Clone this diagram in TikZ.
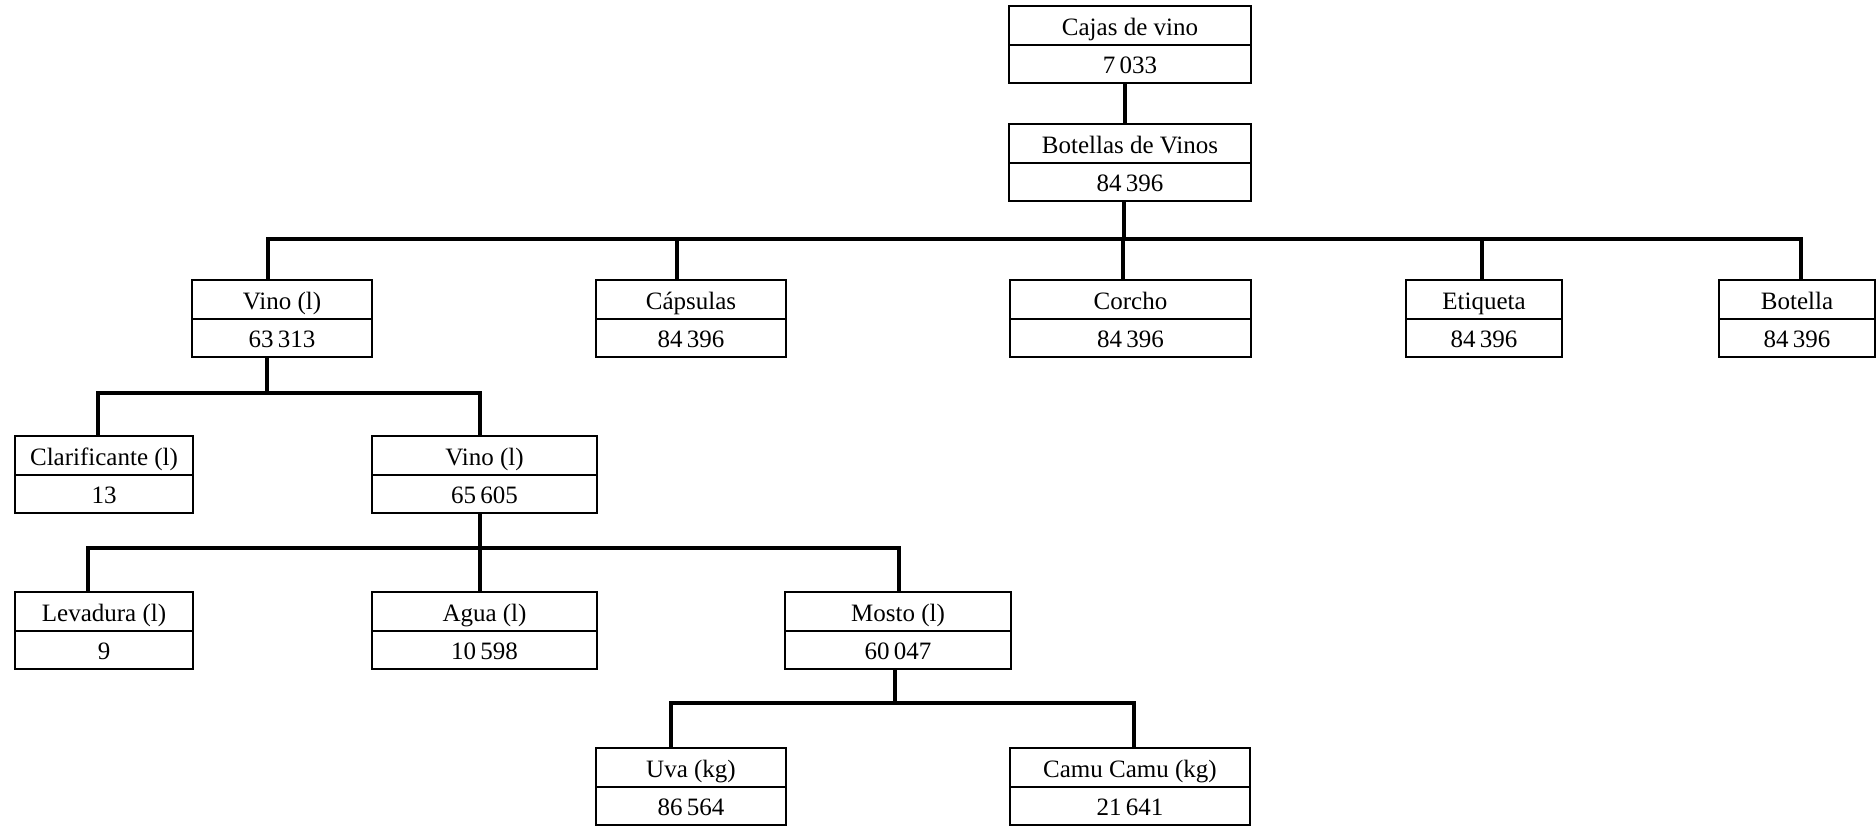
\documentclass[tikz,border=0pt]{standalone}
\usepackage{fontspec}
\setmainfont{Liberation Serif}
\usetikzlibrary{shapes.multipart}

% one text line per cell, with the baseline a little above the cell bottom
\newcommand{\cell}[1]{\rule[-8.6pt]{0pt}{36.6pt}#1}

\tikzset{
  item/.style={rectangle split, rectangle split parts=2, draw, line width=2pt,
    inner xsep=0pt, inner ysep=0pt, minimum width=#1, anchor=north west,
    font=\fontsize{25}{29}\selectfont},
  conn/.style={line width=4.2pt, line join=miter}
}

\begin{document}
\begin{tikzpicture}[x=1pt, y=-1pt]
\useasboundingbox (0,0) rectangle (1876,827);

% levels of the bill of materials
\node[item=242pt] (cajas)    at (1008,5)   {\cell{Cajas de vino}\nodepart{second}\cell{7\,033}};
\node[item=242pt] (botellas) at (1008,123) {\cell{Botellas de Vinos}\nodepart{second}\cell{84\,396}};

\node[item=180pt] (vino)     at (191,279)  {\cell{Vino (l)}\nodepart{second}\cell{63\,313}};
\node[item=190pt] (capsulas) at (595,279)  {\cell{Cápsulas}\nodepart{second}\cell{84\,396}};
\node[item=241pt] (corcho)   at (1009,279) {\cell{Corcho}\nodepart{second}\cell{84\,396}};
\node[item=156pt] (etiqueta) at (1405,279) {\cell{Etiqueta}\nodepart{second}\cell{84\,396}};
\node[item=156pt] (botella)  at (1718,279) {\cell{Botella}\nodepart{second}\cell{84\,396}};

\node[item=178pt] (clar)     at (14,435)   {\cell{Clarificante (l)}\nodepart{second}\cell{13}};
\node[item=225pt] (vinob)    at (371,435)  {\cell{Vino (l)}\nodepart{second}\cell{65\,605}};

\node[item=178pt] (levadura) at (14,591)   {\cell{Levadura (l)}\nodepart{second}\cell{9}};
\node[item=225pt] (agua)     at (371,591)  {\cell{Agua (l)}\nodepart{second}\cell{10\,598}};
\node[item=226pt] (mosto)    at (784,591)  {\cell{Mosto (l)}\nodepart{second}\cell{60\,047}};

\node[item=190pt] (uva)      at (595,747)  {\cell{Uva (kg)}\nodepart{second}\cell{86\,564}};
\node[item=240pt] (camu)     at (1009,747) {\cell{Camu Camu (kg)}\nodepart{second}\cell{21\,641}};

% heights of the horizontal buses
\coordinate (bus1) at (0,239);
\coordinate (bus2) at (0,393);
\coordinate (bus3) at (0,548);
\coordinate (bus4) at (0,703);

% connectors
\draw[conn] ([xshift=-5pt]cajas.south) -- ([xshift=-5pt]botellas.north);

\coordinate (pb) at ([xshift=-6pt]botellas.south);
\foreach \c/\d in {vino/-14, capsulas/-14, corcho/-7.5, etiqueta/-2, botella/4}
  \draw[conn] (pb) -- (pb |- bus1) -| ([xshift=\d pt]\c.north);

\coordinate (pv) at ([xshift=-15pt]vino.south);
\foreach \c/\d in {clar/-6, vinob/-4.5}
  \draw[conn] (pv) -- (pv |- bus2) -| ([xshift=\d pt]\c.north);

\coordinate (pw) at ([xshift=-4.5pt]vinob.south);
\foreach \c/\d in {levadura/-16, agua/-4.5, mosto/1}
  \draw[conn] (pw) -- (pw |- bus3) -| ([xshift=\d pt]\c.north);

\coordinate (pm) at ([xshift=-3pt]mosto.south);
\foreach \c/\d in {uva/-20, camu/4}
  \draw[conn] (pm) -- (pm |- bus4) -| ([xshift=\d pt]\c.north);
\end{tikzpicture}
\end{document}
